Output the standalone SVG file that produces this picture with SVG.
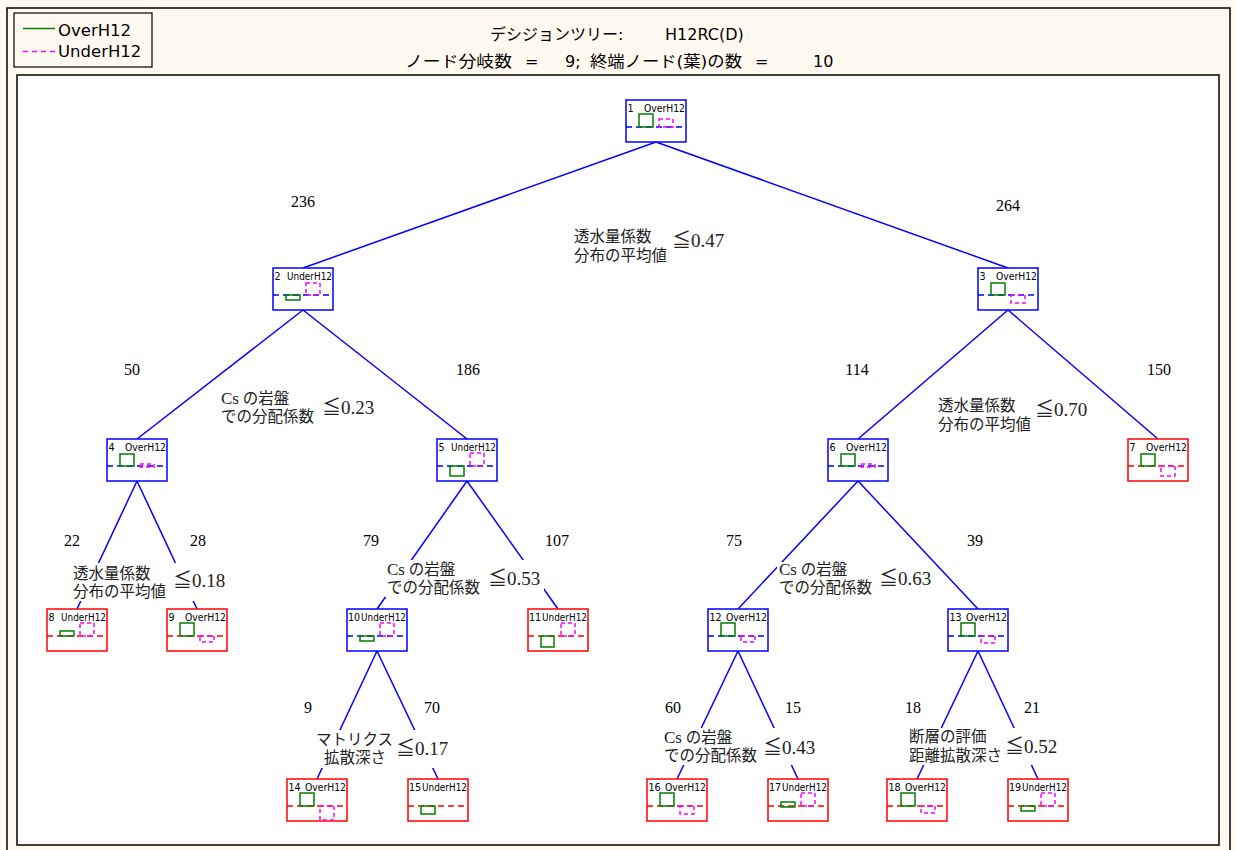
<svg xmlns="http://www.w3.org/2000/svg" width="1236" height="850" viewBox="0 0 1236 850">
<style>
.hdr{font-family:"DejaVu Sans","Noto Sans CJK JP",sans-serif;font-size:16px;fill:#000}
.leg{font-family:"DejaVu Sans",sans-serif;font-size:16.5px;fill:#000}
.nl{font-family:"DejaVu Sans",sans-serif;font-size:9.6px;fill:#000}
.cnt{font-family:"Liberation Serif",serif;font-size:16px;fill:#000;text-anchor:middle}
.jp{font-family:"Liberation Serif","Noto Sans CJK JP",serif;font-size:15.5px;fill:#222}
.cs{font-size:17px}
.le{font-family:"Liberation Serif","Noto Sans CJK JP",serif;font-size:19px;fill:#222}
.mask{fill:#fff;stroke:none}
.ib{fill:#fff;stroke:#0000ff;stroke-width:1.5}
.lf{fill:#fff;stroke:#ff0000;stroke-width:1.5}
.bb{stroke:#0000ff;stroke-width:1.5;stroke-dasharray:6,4}
.rb{stroke:#ff0000;stroke-width:1.5;stroke-dasharray:6,4}
.g{fill:none;stroke:#008000;stroke-width:1.5}
.m{fill:none;stroke:#ff00ff;stroke-width:1.5;stroke-dasharray:4,3}
#edges line{stroke:#0000ff;stroke-width:1.5}
</style>
<rect x="0" y="0" width="1236" height="850" fill="#fffaf0"/>
<rect x="7" y="8" width="1223" height="850" fill="#fffaf0" stroke="#000" stroke-width="1.5"/>
<rect x="17" y="75" width="1202" height="770" fill="#fff" stroke="#000" stroke-width="1.5"/>
<g id="legend">
<rect x="14" y="13" width="138" height="54" fill="#fffaf0" stroke="#000" stroke-width="1.2"/>
<line x1="23" y1="28.5" x2="55" y2="28.5" stroke="#008000" stroke-width="1.5"/>
<line x1="23" y1="51.5" x2="55" y2="51.5" stroke="#ff00ff" stroke-width="1.5" stroke-dasharray="5,4"/>
<text class="leg" x="58" y="36">OverH12</text>
<text class="leg" x="58" y="57">UnderH12</text>
</g>
<g id="title">
<text class="hdr" x="490" y="40">デシジョンツリー:</text>
<text class="hdr" x="665" y="40">H12RC(D)</text>
<text class="hdr" x="405" y="67" textLength="107" lengthAdjust="spacingAndGlyphs">ノード分岐数</text>
<text class="hdr" x="525" y="67">=</text>
<text class="hdr" x="565" y="67">9;</text>
<text class="hdr" x="590" y="67" textLength="152" lengthAdjust="spacingAndGlyphs">終端ノード(葉)の数</text>
<text class="hdr" x="755" y="67">=</text>
<text class="hdr" x="813" y="67">10</text>
</g>
<g id="edges">
<line x1="656" y1="142" x2="303" y2="268"/>
<line x1="656" y1="142" x2="1008" y2="268"/>
<line x1="303" y1="310" x2="137" y2="439"/>
<line x1="303" y1="310" x2="467" y2="439"/>
<line x1="1008" y1="310" x2="858" y2="439"/>
<line x1="1008" y1="310" x2="1158" y2="439"/>
<line x1="137" y1="481" x2="77" y2="609"/>
<line x1="137" y1="481" x2="197" y2="609"/>
<line x1="467" y1="481" x2="377" y2="609"/>
<line x1="467" y1="481" x2="558" y2="609"/>
<line x1="858" y1="481" x2="738" y2="609"/>
<line x1="858" y1="481" x2="978" y2="609"/>
<line x1="377" y1="651" x2="317" y2="779"/>
<line x1="377" y1="651" x2="438" y2="779"/>
<line x1="738" y1="651" x2="677" y2="779"/>
<line x1="738" y1="651" x2="798" y2="779"/>
<line x1="978" y1="651" x2="917" y2="779"/>
<line x1="978" y1="651" x2="1038" y2="779"/>
</g>
<g id="counts">
<text class="cnt" x="303" y="207">236</text>
<text class="cnt" x="1008" y="211">264</text>
<text class="cnt" x="132" y="375">50</text>
<text class="cnt" x="468" y="375">186</text>
<text class="cnt" x="857" y="375">114</text>
<text class="cnt" x="1159" y="375">150</text>
<text class="cnt" x="72" y="546">22</text>
<text class="cnt" x="198" y="546">28</text>
<text class="cnt" x="371" y="546">79</text>
<text class="cnt" x="557" y="546">107</text>
<text class="cnt" x="734" y="546">75</text>
<text class="cnt" x="975" y="546">39</text>
<text class="cnt" x="308" y="713">9</text>
<text class="cnt" x="432" y="713">70</text>
<text class="cnt" x="673" y="713">60</text>
<text class="cnt" x="793" y="713">15</text>
<text class="cnt" x="913" y="713">18</text>
<text class="cnt" x="1032" y="713">21</text>
</g>
<g id="splits">
<g id="split1"><rect class="mask" x="572" y="226" width="157" height="39"/>
<text class="jp" x="574" y="242">透水量係数</text><text class="jp" x="574" y="261">分布の平均値</text><text class="le" x="672" y="247">≦0.47</text></g>
<g id="split2"><rect class="mask" x="219" y="390" width="160" height="37"/>
<text class="jp" x="221" y="404"><tspan class="cs">Cs</tspan> の岩盤</text><text class="jp" x="221" y="422">での分配係数</text><text class="le" x="322" y="414">≦0.23</text></g>
<g id="split3"><rect class="mask" x="936" y="397" width="155" height="37"/>
<text class="jp" x="938" y="411">透水量係数</text><text class="jp" x="938" y="430">分布の平均値</text><text class="le" x="1035" y="416">≦0.70</text></g>
<g id="split4"><rect class="mask" x="71" y="563" width="158" height="38"/>
<text class="jp" x="73" y="579">透水量係数</text><text class="jp" x="73" y="597">分布の平均値</text><text class="le" x="173" y="587">≦0.18</text></g>
<g id="split5"><rect class="mask" x="385" y="560" width="159" height="37"/>
<text class="jp" x="387" y="575"><tspan class="cs">Cs</tspan> の岩盤</text><text class="jp" x="387" y="593">での分配係数</text><text class="le" x="488" y="585">≦0.53</text></g>
<g id="split6"><rect class="mask" x="777" y="562" width="156" height="35"/>
<text class="jp" x="779" y="575"><tspan class="cs">Cs</tspan> の岩盤</text><text class="jp" x="779" y="593">での分配係数</text><text class="le" x="879" y="585">≦0.63</text></g>
<g id="split10"><rect class="mask" x="313" y="730" width="138" height="38"/>
<text class="jp" x="316" y="745">マトリクス</text><text class="jp" x="324" y="763">拡散深さ</text><text class="le" x="396" y="755">≦0.17</text></g>
<g id="split12"><rect class="mask" x="661" y="728" width="158" height="37"/>
<text class="jp" x="664" y="743"><tspan class="cs">Cs</tspan> の岩盤</text><text class="jp" x="664" y="761">での分配係数</text><text class="le" x="763" y="754">≦0.43</text></g>
<g id="split13"><rect class="mask" x="906" y="728" width="154" height="37"/>
<text class="jp" x="909" y="742">断層の評価</text><text class="jp" x="909" y="761">距離拡散深さ</text><text class="le" x="1005" y="753">≦0.52</text></g>
</g>
<g id="node1"><rect class="ib" x="626" y="100" width="60" height="42"/><line class="bb" x1="626" y1="127" x2="686" y2="127"/><text class="nl" x="627.5" y="112">1</text><text class="nl" x="685" y="112" text-anchor="end" textLength="41" lengthAdjust="spacingAndGlyphs">OverH12</text><rect class="g" x="639" y="114" width="14" height="13"/><rect class="m" x="659" y="119" width="14" height="8"/></g>
<g id="node2"><rect class="ib" x="273" y="268" width="60" height="42"/><line class="bb" x1="273" y1="295" x2="333" y2="295"/><text class="nl" x="274.5" y="280">2</text><text class="nl" x="332" y="280" text-anchor="end" textLength="45" lengthAdjust="spacingAndGlyphs">UnderH12</text><rect class="g" x="286" y="295" width="14" height="5"/><rect class="m" x="306" y="283" width="14" height="12"/></g>
<g id="node3"><rect class="ib" x="978" y="268" width="60" height="42"/><line class="bb" x1="978" y1="295" x2="1038" y2="295"/><text class="nl" x="979.5" y="280">3</text><text class="nl" x="1037" y="280" text-anchor="end" textLength="41" lengthAdjust="spacingAndGlyphs">OverH12</text><rect class="g" x="991" y="283" width="14" height="12"/><rect class="m" x="1011" y="295" width="14" height="8"/></g>
<g id="node4"><rect class="ib" x="107" y="439" width="60" height="42"/><line class="bb" x1="107" y1="466" x2="167" y2="466"/><text class="nl" x="108.5" y="451">4</text><text class="nl" x="166" y="451" text-anchor="end" textLength="41" lengthAdjust="spacingAndGlyphs">OverH12</text><rect class="g" x="120" y="454" width="14" height="12"/><rect class="m" x="140" y="464" width="14" height="3"/></g>
<g id="node5"><rect class="ib" x="437" y="439" width="60" height="42"/><line class="bb" x1="437" y1="466" x2="497" y2="466"/><text class="nl" x="438.5" y="451">5</text><text class="nl" x="496" y="451" text-anchor="end" textLength="45" lengthAdjust="spacingAndGlyphs">UnderH12</text><rect class="g" x="450" y="466" width="14" height="10"/><rect class="m" x="470" y="453" width="14" height="13"/></g>
<g id="node6"><rect class="ib" x="828" y="439" width="60" height="42"/><line class="bb" x1="828" y1="466" x2="888" y2="466"/><text class="nl" x="829.5" y="451">6</text><text class="nl" x="887" y="451" text-anchor="end" textLength="41" lengthAdjust="spacingAndGlyphs">OverH12</text><rect class="g" x="841" y="454" width="14" height="12"/><rect class="m" x="861" y="464" width="14" height="3"/></g>
<g id="node7"><rect class="lf" x="1128" y="439" width="60" height="42"/><line class="rb" x1="1128" y1="466" x2="1188" y2="466"/><text class="nl" x="1129.5" y="451">7</text><text class="nl" x="1187" y="451" text-anchor="end" textLength="41" lengthAdjust="spacingAndGlyphs">OverH12</text><rect class="g" x="1141" y="454" width="14" height="12"/><rect class="m" x="1161" y="466" width="14" height="10"/></g>
<g id="node8"><rect class="lf" x="47" y="609" width="60" height="42"/><line class="rb" x1="47" y1="636" x2="107" y2="636"/><text class="nl" x="48.5" y="621">8</text><text class="nl" x="106" y="621" text-anchor="end" textLength="45" lengthAdjust="spacingAndGlyphs">UnderH12</text><rect class="g" x="60" y="631" width="14" height="5"/><rect class="m" x="80" y="623" width="14" height="13"/></g>
<g id="node9"><rect class="lf" x="167" y="609" width="60" height="42"/><line class="rb" x1="167" y1="636" x2="227" y2="636"/><text class="nl" x="168.5" y="621">9</text><text class="nl" x="226" y="621" text-anchor="end" textLength="41" lengthAdjust="spacingAndGlyphs">OverH12</text><rect class="g" x="180" y="623" width="14" height="13"/><rect class="m" x="200" y="636" width="14" height="6"/></g>
<g id="node10"><rect class="ib" x="347" y="609" width="60" height="42"/><line class="bb" x1="347" y1="636" x2="407" y2="636"/><text class="nl" x="348" y="621">10</text><text class="nl" x="406" y="621" text-anchor="end" textLength="45" lengthAdjust="spacingAndGlyphs">UnderH12</text><rect class="g" x="360" y="636" width="14" height="5"/><rect class="m" x="380" y="623" width="14" height="13"/></g>
<g id="node11"><rect class="lf" x="528" y="609" width="60" height="42"/><line class="rb" x1="528" y1="636" x2="588" y2="636"/><text class="nl" x="529" y="621">11</text><text class="nl" x="587" y="621" text-anchor="end" textLength="45" lengthAdjust="spacingAndGlyphs">UnderH12</text><rect class="g" x="541" y="636" width="13" height="11"/><rect class="m" x="561" y="623" width="14" height="13"/></g>
<g id="node12"><rect class="ib" x="708" y="609" width="60" height="42"/><line class="bb" x1="708" y1="636" x2="768" y2="636"/><text class="nl" x="709.5" y="621">12</text><text class="nl" x="767" y="621" text-anchor="end" textLength="41" lengthAdjust="spacingAndGlyphs">OverH12</text><rect class="g" x="721" y="623" width="14" height="13"/><rect class="m" x="741" y="636" width="14" height="6"/></g>
<g id="node13"><rect class="ib" x="948" y="609" width="60" height="42"/><line class="bb" x1="948" y1="636" x2="1008" y2="636"/><text class="nl" x="949.5" y="621">13</text><text class="nl" x="1007" y="621" text-anchor="end" textLength="41" lengthAdjust="spacingAndGlyphs">OverH12</text><rect class="g" x="961" y="623" width="14" height="13"/><rect class="m" x="981" y="636" width="14" height="7"/></g>
<g id="node14"><rect class="lf" x="287" y="779" width="60" height="42"/><line class="rb" x1="287" y1="806" x2="347" y2="806"/><text class="nl" x="288.5" y="791">14</text><text class="nl" x="346" y="791" text-anchor="end" textLength="41" lengthAdjust="spacingAndGlyphs">OverH12</text><rect class="g" x="300" y="793" width="14" height="13"/><rect class="m" x="320" y="806" width="14" height="14"/></g>
<g id="node15"><rect class="lf" x="408" y="779" width="60" height="42"/><line class="rb" x1="408" y1="806" x2="468" y2="806"/><text class="nl" x="409" y="791">15</text><text class="nl" x="467" y="791" text-anchor="end" textLength="45" lengthAdjust="spacingAndGlyphs">UnderH12</text><rect class="g" x="421" y="806" width="14" height="8"/></g>
<g id="node16"><rect class="lf" x="647" y="779" width="60" height="42"/><line class="rb" x1="647" y1="806" x2="707" y2="806"/><text class="nl" x="648.5" y="791">16</text><text class="nl" x="706" y="791" text-anchor="end" textLength="41" lengthAdjust="spacingAndGlyphs">OverH12</text><rect class="g" x="660" y="793" width="14" height="13"/><rect class="m" x="680" y="806" width="14" height="8"/></g>
<g id="node17"><rect class="lf" x="768" y="779" width="60" height="42"/><line class="rb" x1="768" y1="806" x2="828" y2="806"/><text class="nl" x="769" y="791">17</text><text class="nl" x="827" y="791" text-anchor="end" textLength="45" lengthAdjust="spacingAndGlyphs">UnderH12</text><rect class="g" x="781" y="802" width="14" height="5"/><rect class="m" x="801" y="793" width="14" height="13"/></g>
<g id="node18"><rect class="lf" x="887" y="779" width="60" height="42"/><line class="rb" x1="887" y1="806" x2="947" y2="806"/><text class="nl" x="888.5" y="791">18</text><text class="nl" x="946" y="791" text-anchor="end" textLength="41" lengthAdjust="spacingAndGlyphs">OverH12</text><rect class="g" x="901" y="793" width="14" height="13"/><rect class="m" x="921" y="806" width="14" height="7"/></g>
<g id="node19"><rect class="lf" x="1008" y="779" width="60" height="42"/><line class="rb" x1="1008" y1="806" x2="1068" y2="806"/><text class="nl" x="1009" y="791">19</text><text class="nl" x="1067" y="791" text-anchor="end" textLength="45" lengthAdjust="spacingAndGlyphs">UnderH12</text><rect class="g" x="1021" y="806" width="14" height="5"/><rect class="m" x="1041" y="793" width="14" height="13"/></g>
</svg>
